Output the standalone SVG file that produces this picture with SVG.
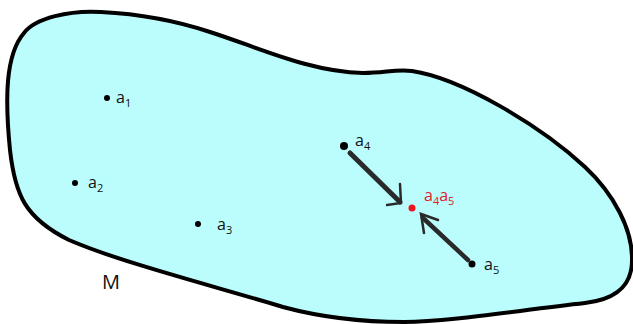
<svg xmlns="http://www.w3.org/2000/svg" width="633" height="324" viewBox="0 0 633 324">
<style>
.lbl{font-family:"Open Sans","Liberation Sans",sans-serif;font-size:16px;fill:#111}
.sub{font-size:11px}
.red{fill:#e0202a}
.dot{fill:#000}
.arr{fill:none;stroke:#2a2a2a;stroke-linecap:round}
</style>
<rect width="633" height="324" fill="#fff"/>
<g id="M">
<path d="M24,33 C35,18 70,10 101,12 C140,14 180,22 210,32 C260,48 310,72 363,73 C385,73 395,69 412,71 C460,78 540,125 585,167 C615,195 632,230 632,258 C633,290 610,300 585,303 C520,310 450,322 404,322 C360,322 320,317 283,307 C210,285 120,262 69,240 C25,218 15,195 10,150 C5,100 5,55 24,33 Z" fill="#bbfdfd" stroke="#000" stroke-width="4"/>
<text class="lbl" x="102" y="289" style="font-size:20px">M</text>
</g>
<g id="a1"><circle class="dot" cx="107" cy="98" r="3"/><text class="lbl" x="116" y="103">a<tspan class="sub" dy="4">1</tspan></text></g>
<g id="a2"><circle class="dot" cx="75" cy="183" r="3"/><text class="lbl" x="88" y="188">a<tspan class="sub" dy="4">2</tspan></text></g>
<g id="a3"><circle class="dot" cx="198" cy="224" r="3"/><text class="lbl" x="217" y="230">a<tspan class="sub" dy="4">3</tspan></text></g>
<g id="a4"><circle class="dot" cx="344" cy="146" r="4"/><text class="lbl" x="355" y="146">a<tspan class="sub" dy="4">4</tspan></text></g>
<g id="a5"><circle class="dot" cx="472" cy="264" r="3.5"/><text class="lbl" x="484" y="270">a<tspan class="sub" dy="4">5</tspan></text></g>
<g id="a4a5"><circle cx="412" cy="208" r="3.5" fill="#f0141e"/><text class="lbl red" x="424" y="201">a<tspan class="sub" dy="4">4</tspan><tspan dy="-4">a</tspan><tspan class="sub" dy="4">5</tspan></text></g>
<g id="connectors">
<path class="arr" d="M350,153 L400,202" stroke-width="5"/>
<path class="arr" d="M387,205 L401,203 L400,184" stroke-width="2.5"/>
<path class="arr" d="M468,260 L423,218" stroke-width="4.5"/>
<path class="arr" d="M438,220 L421,214 L424,233" stroke-width="2.5"/>
</g>
</svg>
